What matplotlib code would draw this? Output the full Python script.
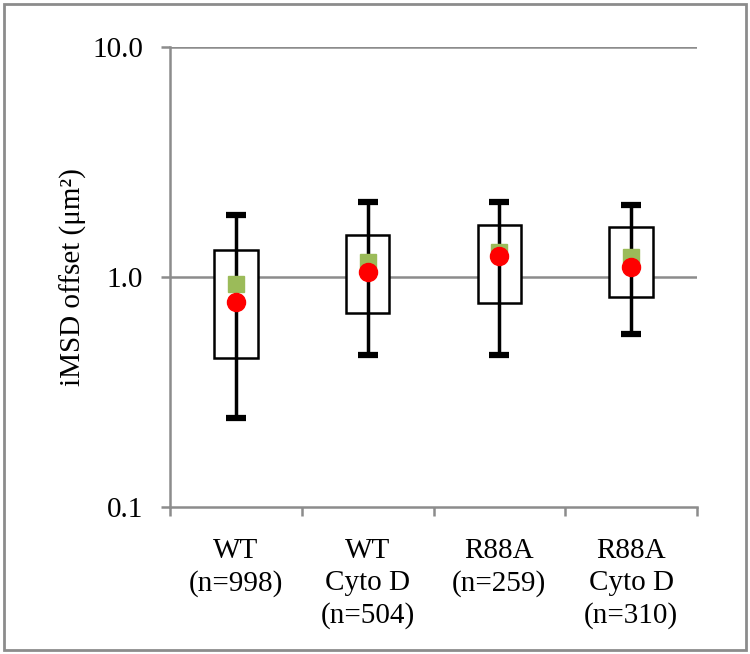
import matplotlib
matplotlib.use("Agg")
import matplotlib.pyplot as plt
from matplotlib.patches import Rectangle
from matplotlib.ticker import FixedLocator, NullLocator

# data (log axis, um^2)
groups = ["WT\n(n=998)", "WT\nCyto D\n(n=504)", "R88A\n(n=259)", "R88A\nCyto D\n(n=310)"]
whisk_lo = [0.244, 0.46, 0.46, 0.565]
box_lo = [0.444, 0.70, 0.77, 0.82]
box_hi = [1.31, 1.52, 1.68, 1.65]
whisk_hi = [1.86, 2.12, 2.12, 2.06]
means = [0.93, 1.16, 1.28, 1.22]      # green squares
medians = [0.78, 1.05, 1.23, 1.10]    # red circles

grey = "#8c8c8c"
serif = ["Liberation Serif", "DejaVu Serif"]

fig = plt.figure(figsize=(7.5, 6.54), dpi=100)
ax = fig.add_axes([0.2267, 0.2248, 0.7026, 0.7033])
ax.set_yscale("log")
ax.set_ylim(0.1, 10)
ax.set_xlim(-0.5, len(groups) - 0.5)

# gridlines
for v in [1.0, 10.0]:
    ax.axhline(v, color=grey, lw=1.8, zorder=1)

x = list(range(len(groups)))
hts = [h - l for h, l in zip(box_hi, box_lo)]
ax.bar(x, hts, bottom=box_lo, width=0.33, facecolor="white",
       edgecolor="black", linewidth=1.8, zorder=2)
ax.vlines(x, whisk_lo, whisk_hi, color="black", lw=2.5, zorder=3)
cw = 0.075
for xi, lo, hi in zip(x, whisk_lo, whisk_hi):
    ax.hlines([lo, hi], xi - cw, xi + cw, color="black", lw=4.5, zorder=3)

ax.plot(x, means, ls="none", marker="s", ms=11, color="#9bbb59", zorder=4)
ax.plot(x, medians, ls="none", marker="o", ms=13, color="#ff0000", zorder=5)

# spines / ticks
for s in ["top", "right"]:
    ax.spines[s].set_visible(False)
for s in ["left", "bottom"]:
    ax.spines[s].set_color(grey)
    ax.spines[s].set_linewidth(1.8)

ax.yaxis.set_major_locator(FixedLocator([0.1, 1.0, 10.0]))
ax.yaxis.set_minor_locator(NullLocator())
ax.set_yticklabels(["0.1", "1.0", "10.0"], family=serif, fontsize=21)
ax.tick_params(axis="y", which="major", length=6.5, width=1.8, color=grey, pad=13)

ax.set_xticks([i - 0.5 for i in range(len(groups) + 1)])
ax.set_xticklabels([])
ax.set_xticks(x, minor=True)
ax.set_xticklabels(groups, minor=True, family=serif,
                   fontsize=21, linespacing=1.3, va="top")
ax.tick_params(axis="x", which="major", length=6.5, width=1.8, color=grey, direction="out")
ax.tick_params(axis="x", which="minor", length=0, pad=22)

ax.set_ylabel("iMSD offset (μm²)", family=serif, fontsize=21, labelpad=4)

# outer frame
fig.add_artist(Rectangle((0.005, 0.006), 0.99, 0.988, transform=fig.transFigure,
                         fill=False, edgecolor=grey, lw=2))

fig.savefig("out.png", dpi=100)
